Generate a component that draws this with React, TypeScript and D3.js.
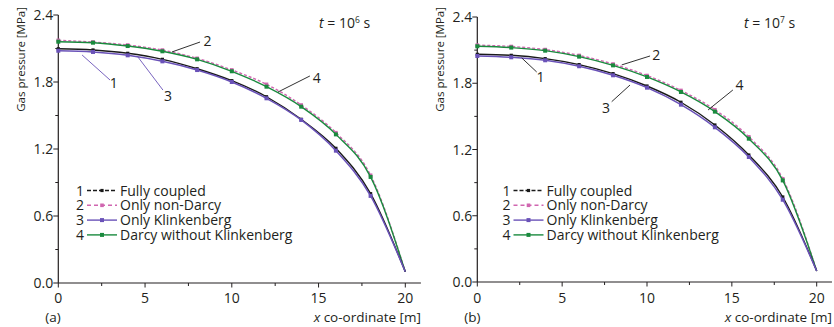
import * as d3 from "d3";

// x positions of the computed points [m]
const X_POS = [0, 2, 4, 6, 8, 10, 12, 14, 16, 18, 20];

// (a) t = 10^6 s  -- gas pressure [MPa]
const A_FULLY = [2.098, 2.087, 2.057, 2.003, 1.919, 1.812, 1.668, 1.466, 1.206, 0.8, 0.1];
const A_NON_DARCY = [2.173, 2.158, 2.131, 2.086, 2.012, 1.908, 1.779, 1.594, 1.346, 0.965, 0.1];
const A_KLINK = [2.08, 2.069, 2.039, 1.985, 1.907, 1.8, 1.654, 1.46, 1.185, 0.78, 0.1];
const A_DARCY = [2.161, 2.152, 2.122, 2.075, 2.003, 1.896, 1.758, 1.579, 1.331, 0.95, 0.1];

// (b) t = 10^7 s
const B_FULLY = [2.062, 2.053, 2.023, 1.969, 1.887, 1.775, 1.628, 1.422, 1.15, 0.77, 0.1];
const B_NON_DARCY = [2.145, 2.133, 2.105, 2.052, 1.974, 1.87, 1.735, 1.56, 1.315, 0.935, 0.1];
const B_KLINK = [2.047, 2.035, 2.008, 1.954, 1.872, 1.76, 1.606, 1.401, 1.132, 0.745, 0.1];
const B_DARCY = [2.135, 2.123, 2.095, 2.041, 1.962, 1.857, 1.721, 1.543, 1.298, 0.92, 0.1];

const SERIES_IDS = ["1", "2", "3", "4"];
const SERIES_NAMES = ["Fully coupled", "Only non-Darcy", "Only Klinkenberg", "Darcy without Klinkenberg"];

const X_TICKS = [0, 5, 10, 15, 20];
const X_MINOR = [2.5, 7.5, 12.5, 17.5];
const Y_TICKS = [0, 0.6, 1.2, 1.8, 2.4];
const Y_MINOR = [0.3, 0.9, 1.5, 2.1];

const STYLE: Record<string, { color: string; dash: string | null; ms: number; width: number }> = {
  "1": { color: "#1a1a1a", dash: null, ms: 3.2, width: 1.4 },
  "2": { color: "#d066b0", dash: "3,2", ms: 3.6, width: 1.4 },
  "3": { color: "#6a52b8", dash: null, ms: 4, width: 1.5 },
  "4": { color: "#1a8a3e", dash: null, ms: 4, width: 1.4 },
};
const LEGEND_DASH: Record<string, string | null> = { "1": "4,2", "2": "4,3", "3": null, "4": null };
const DRAW_ORDER = ["2", "4", "1", "3"];

type Note = { id: string; from: [number, number]; to: [number, number]; at: [number, number]; color: string };

const PANELS = [
  {
    tag: "(a)",
    exp: "6",
    left: 58.3,
    right: 405.3,
    bottom: 283,
    top: 15,
    series: { "1": A_FULLY, "2": A_NON_DARCY, "3": A_KLINK, "4": A_DARCY } as Record<string, number[]>,
    notes: [
      { id: "1", from: [1.37, 2.042], to: [2.98, 1.818], at: [3.2, 1.79], color: "#6a52b8" },
      { id: "3", from: [4.59, 2.024], to: [6.03, 1.728], at: [6.32, 1.672], color: "#6a52b8" },
      { id: "2", from: [6.55, 2.069], to: [8.17, 2.158], at: [8.6, 2.167], color: "#1a1a1a" },
      { id: "4", from: [12.66, 1.71], to: [14.5, 1.854], at: [14.9, 1.836], color: "#1a1a1a" },
    ] as Note[],
    legendX: 80,
    timeX: 319,
  },
  {
    tag: "(b)",
    exp: "7",
    left: 477.3,
    right: 816.7,
    bottom: 282,
    top: 17,
    series: { "1": B_FULLY, "2": B_NON_DARCY, "3": B_KLINK, "4": B_DARCY } as Record<string, number[]>,
    notes: [
      { id: "2", from: [8.51, 1.966], to: [10.18, 2.047], at: [10.55, 2.056], color: "#1a1a1a" },
      { id: "1", from: [2.62, 2.029], to: [3.5, 1.902], at: [3.72, 1.855], color: "#1a1a1a" },
      { id: "3", from: [9.0, 1.784], to: [7.92, 1.633], at: [7.58, 1.574], color: "#1a1a1a" },
      { id: "4", from: [13.6, 1.558], to: [15.06, 1.739], at: [15.45, 1.784], color: "#1a1a1a" },
    ] as Note[],
    legendX: 506.5,
    timeX: 744,
  },
];

const FONT = "'Open Sans', 'Noto Sans', sans-serif";
const INK = "#231f20";

function Panel({ p }: { p: (typeof PANELS)[number] }) {
  const x = d3.scaleLinear().domain([0, 20]).range([p.left, p.right]);
  const y = d3.scaleLinear().domain([0, 2.4]).range([p.bottom, p.top]);
  const line = d3
    .line<number>()
    .x((_, i) => x(X_POS[i]))
    .y((d) => y(d))
    .curve(d3.curveMonotoneX);

  const lx = p.legendX;
  const rowY = (i: number) => 190.5 + i * 14.8;

  return (
    <g>
      {/* axes */}
      <line x1={x(0)} x2={x(20.9)} y1={y(0)} y2={y(0)} stroke={INK} strokeWidth={1.2} />
      <line x1={x(0)} x2={x(0)} y1={y(0)} y2={y(2.4)} stroke={INK} strokeWidth={1.2} />
      {X_TICKS.map((t) => (
        <g key={"xt" + t}>
          <line x1={x(t)} x2={x(t)} y1={y(0)} y2={y(0) + 4.5} stroke={INK} strokeWidth={1} />
          <text x={x(t)} y={302.5} textAnchor="middle" fontSize={14} fill={INK}>
            {t}
          </text>
        </g>
      ))}
      {X_MINOR.map((t) => (
        <line key={"xm" + t} x1={x(t)} x2={x(t)} y1={y(0)} y2={y(0) + 3} stroke={INK} strokeWidth={1} />
      ))}
      {Y_TICKS.map((t) => (
        <g key={"yt" + t}>
          <line x1={x(0) - 5} x2={x(0)} y1={y(t)} y2={y(t)} stroke={INK} strokeWidth={1} />
          <text x={x(0) - 5} y={y(t)} dy="0.36em" textAnchor="end" fontSize={14} fill={INK}>
            {t.toFixed(1)}
          </text>
        </g>
      ))}
      {Y_MINOR.map((t) => (
        <line key={"ym" + t} x1={x(0) - 3} x2={x(0)} y1={y(t)} y2={y(t)} stroke={INK} strokeWidth={1} />
      ))}
      <text
        transform={`translate(${p.left - 37},7) rotate(-90)`}
        textAnchor="end"
        dy="0.35em"
        fontSize={11.5}
        fill={INK}
      >
        Gas pressure [MPa]
      </text>
      <text x={x(20.9)} y={322} textAnchor="end" fontSize={13.5} fill={INK}>
        <tspan fontStyle="italic">x</tspan> co-ordinate [m]
      </text>
      <text x={p.left - 13} y={322} fontSize={13.5} fill={INK}>
        {p.tag}
      </text>
      <text x={p.timeX} y={28} fontSize={14} fill={INK}>
        <tspan fontStyle="italic">t</tspan> = 10
        <tspan fontSize={8.5} dy={-5}>
          {p.exp}
        </tspan>
        <tspan dy={5}> s</tspan>
      </text>

      {/* curves */}
      {DRAW_ORDER.map((id) => {
        const s = STYLE[id];
        const vals = p.series[id];
        return (
          <g key={"s" + id}>
            <path
              d={line(vals) ?? ""}
              fill="none"
              stroke={s.color}
              strokeWidth={s.width}
              strokeDasharray={s.dash ?? undefined}
            />
            {vals.slice(0, -1).map((v, i) => (
              <rect
                key={i}
                x={x(X_POS[i]) - s.ms / 2}
                y={y(v) - s.ms / 2}
                width={s.ms}
                height={s.ms}
                fill={s.color}
              />
            ))}
          </g>
        );
      })}

      {/* annotations */}
      {p.notes.map((n) => (
        <g key={"n" + n.id}>
          <line
            x1={x(n.from[0])}
            y1={y(n.from[1])}
            x2={x(n.to[0])}
            y2={y(n.to[1])}
            stroke={n.color}
            strokeWidth={0.9}
          />
          <text x={x(n.at[0])} y={y(n.at[1])} dy="0.36em" textAnchor="middle" fontSize={14} fill={INK}>
            {n.id}
          </text>
        </g>
      ))}

      {/* legend */}
      {SERIES_IDS.map((id, i) => {
        const s = STYLE[id];
        const cy = rowY(i);
        return (
          <g key={"l" + id}>
            <text x={lx} y={cy} dy="0.36em" textAnchor="middle" fontSize={14} fill={INK}>
              {id}
            </text>
            <line
              x1={lx + 7}
              x2={lx + 37}
              y1={cy}
              y2={cy}
              stroke={s.color}
              strokeWidth={1.4}
              strokeDasharray={LEGEND_DASH[id] ?? undefined}
            />
            <rect x={lx + 22 - s.ms / 2} y={cy - s.ms / 2} width={s.ms} height={s.ms} fill={s.color} />
            <text x={lx + 40} y={cy} dy="0.36em" fontSize={14} fill={INK}>
              {SERIES_NAMES[i]}
            </text>
          </g>
        );
      })}
    </g>
  );
}

export default function App() {
  return (
    <svg
      width={834}
      height={327}
      style={{ position: "absolute", left: 0, top: 0, background: "#fff", fontFamily: FONT }}
    >
      {PANELS.map((p) => (
        <Panel key={p.tag} p={p} />
      ))}
    </svg>
  );
}
